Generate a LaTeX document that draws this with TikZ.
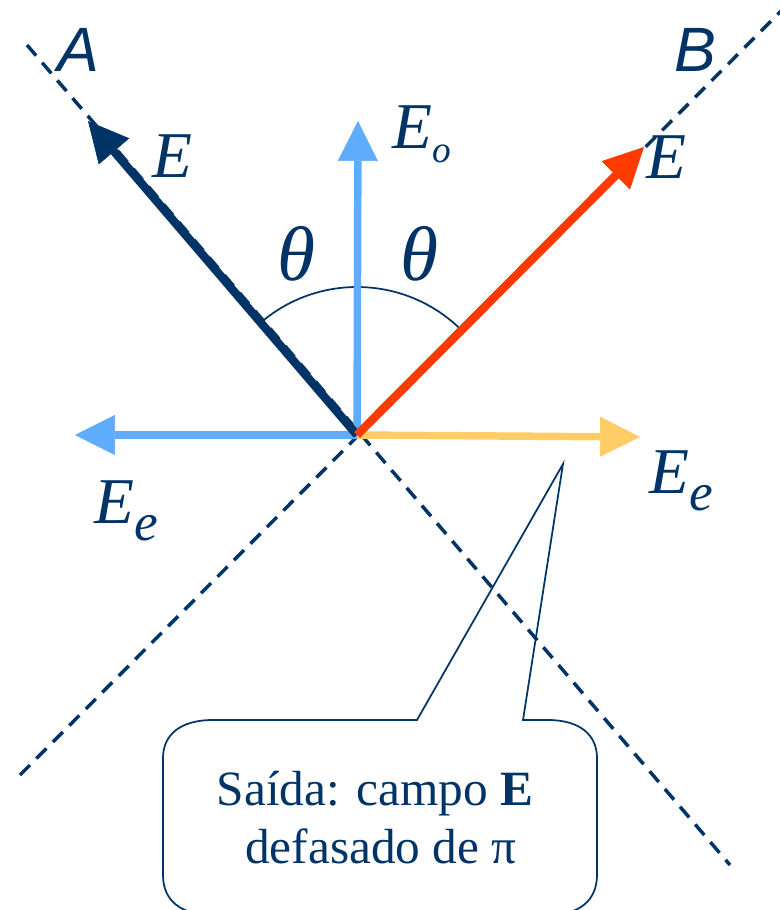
\documentclass[tikz,border=0pt]{standalone}
\usepackage{fontspec}
\setmainfont{Liberation Serif}
\newfontfamily\labsans{Liberation Sans}
\usetikzlibrary{arrows.meta}
\definecolor{navy}{RGB}{0,51,102}
\definecolor{skyblue}{RGB}{95,172,252}
\definecolor{hotred}{RGB}{255,58,0}
\definecolor{goldy}{RGB}{255,204,102}
\newcommand\subo{\raisebox{-11pt}{\fontsize{28}{28}\selectfont o}}
\newcommand\sube{\raisebox{-13pt}{\fontsize{40}{40}\selectfont e}}
\begin{document}
\begin{tikzpicture}[x=0.75pt,y=-0.75pt,
  guide/.style={draw=navy, line width=2.6pt, dash pattern=on 10.5pt off 7pt},
  vec/.style={-{Triangle[length=30pt,width=30pt,line width=0.5pt]}},
  mlbl/.style={text=navy, inner sep=0pt, font=\fontsize{49}{49}\selectfont\itshape},
  thlbl/.style={text=navy, inner sep=0pt, font=\fontsize{58}{58}\selectfont\itshape},
  slbl/.style={text=navy, inner sep=0pt, font=\fontsize{47}{47}\selectfont\labsans\itshape},
  txt/.style={text=navy, inner sep=0pt, font=\fontsize{37}{44}\selectfont},
  thin/.style={draw=navy, line width=1.3pt}]
\useasboundingbox (0,0) rectangle (780,910);
\clip (0,0) rectangle (780,910);
\coordinate (O) at (357,435);
\coordinate (A1) at (27,45);
\coordinate (A2) at (730,865);
\coordinate (B1) at (782,10);
\coordinate (B2) at (20,775);
\coordinate (tipA) at (88,121);
\coordinate (tipB) at (644,147);
\coordinate (tipO) at (358,121);
\coordinate (tipL) at (75,435);
\coordinate (tipR) at (640,437);
\coordinate (ptr) at (563,464);
% guide lines
\draw[guide] (A1) -- (A2);
\draw[guide] (B2) -- (B1);
% angle arc
\draw[thin] (O) ++(-45:148) arc[start angle=-45, end angle=-130.6, radius=148];
% vectors
\draw[vec, goldy, line width=5.6pt] (O) -- (tipR);
\draw[vec, skyblue, line width=5.6pt] (O) -- (tipL);
\draw[vec, skyblue, line width=5.6pt] (O) -- (tipO);
\draw[vec, navy, line width=6.3pt] (O) -- (tipA);
\draw[vec, hotred, line width=6.3pt] (O) -- (tipB);
% labels
\node[slbl] (lA) at (78,50) {A};
\node[slbl] (lB) at (695,50) {B};
\node[mlbl] (lE1) at (172,156) {E};
\node[mlbl] (lE2) at (666,157) {E};
\node[mlbl, anchor=base west] (lEo) at (392,148) {E\subo};
\node[thlbl] (th1) at (296,254) {θ};
\node[thlbl] (th2) at (419,254) {θ};
\node[mlbl, anchor=base west] (lEeL) at (94,523) {E\sube};
\node[mlbl, anchor=base west] (lEeR) at (649,493) {E\sube};
% callout
\draw[thin] (417,720) -- (ptr) -- (523,720) -- (548,720)
  .. controls (580,720) and (597,735) .. (597,758) -- (597,875)
  .. controls (597,900) and (580,915) .. (548,915) -- (213,915)
  .. controls (180,915) and (163,900) .. (163,875) -- (163,758)
  .. controls (163,735) and (180,720) .. (213,720) -- cycle;
\node[txt, anchor=base] (t1) at (375,805) {Saída: campo \textbf{E}};
\node[txt, anchor=base] (t2) at (381,863) {defasado de π};
\end{tikzpicture}
\end{document}
